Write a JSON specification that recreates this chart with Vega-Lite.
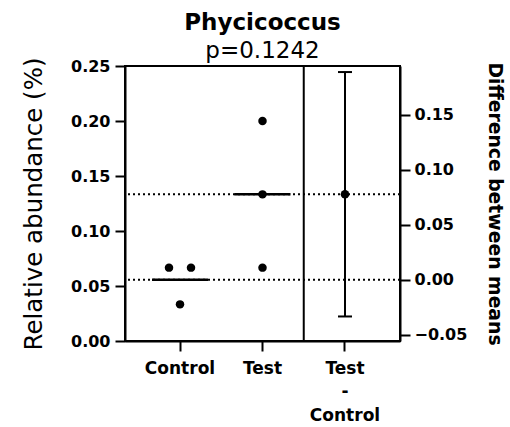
{
  "$schema": "https://vega.github.io/schema/vega-lite/v6.json",
  "width": 275,
  "height": 275,
  "autosize": "none",
  "padding": {"left": 125, "top": 66, "right": 110, "bottom": 86},
  "background": "white",
  "title": {
    "text": "Phycicoccus",
    "subtitle": "p=0.1242",
    "anchor": "middle",
    "frame": "group",
    "font": "DejaVu Sans",
    "fontSize": 23,
    "fontWeight": "bold",
    "color": "black",
    "subtitleFont": "DejaVu Sans",
    "subtitleFontSize": 23,
    "subtitleFontWeight": "normal",
    "subtitleColor": "black",
    "subtitlePadding": 5,
    "offset": -6
  },
  "config": {
    "font": "DejaVu Sans",
    "view": {"stroke": "black", "strokeWidth": 2},
    "axis": {
      "grid": false,
      "domainColor": "black",
      "domainWidth": 2,
      "tickColor": "black",
      "tickWidth": 2,
      "tickSize": 10,
      "labelColor": "black",
      "labelFont": "DejaVu Sans",
      "labelFontWeight": "bold",
      "titleColor": "black",
      "titleFont": "DejaVu Sans"
    }
  },
  "datasets": {
    "obs": [
      {"group": "Control", "abundance": 0.0667, "tie": "left"},
      {"group": "Control", "abundance": 0.0667, "tie": "right"},
      {"group": "Control", "abundance": 0.0333, "tie": "mid"},
      {"group": "Test", "abundance": 0.2, "tie": "mid"},
      {"group": "Test", "abundance": 0.1333, "tie": "mid"},
      {"group": "Test", "abundance": 0.0667, "tie": "mid"}
    ],
    "means": [
      {"group": "Control", "mean": 0.0556},
      {"group": "Test", "mean": 0.1333}
    ],
    "diff": [
      {"group": "Test - Control", "diff": 0.0778, "lo": -0.0333, "hi": 0.1889}
    ]
  },
  "layer": [
    {
      "layer": [
        {
          "data": {"name": "means"},
          "mark": {"type": "rule", "strokeDash": [2, 3], "strokeWidth": 2, "color": "black"},
          "encoding": {
            "y": {
              "field": "mean", "type": "quantitative",
              "scale": {"domain": [0, 0.25], "nice": false, "zero": false},
              "axis": {
                "orient": "left",
                "values": [0, 0.05, 0.1, 0.15, 0.2, 0.25],
                "format": ".2f",
                "labelFontSize": 16,
                "labelPadding": 5,
                "title": "Relative abundance (%)",
                "titleFontSize": 24.5,
                "titleFontWeight": "normal",
                "titlePadding": 24
              }
            }
          }
        },
        {
          "data": {"name": "means"},
          "mark": {"type": "tick", "size": 56, "thickness": 2.5, "color": "black", "opacity": 1},
          "encoding": {
            "x": {"field": "group", "type": "nominal", "scale": {"type": "band", "domain": ["Control", "Test", "Test - Control"], "paddingInner": 0, "paddingOuter": 0.1667}},
            "y": {"field": "mean", "type": "quantitative"}
          }
        },
        {
          "data": {"name": "obs"},
          "mark": {"type": "point", "filled": true, "size": 72, "color": "black", "opacity": 1},
          "encoding": {
            "x": {
              "field": "group", "type": "nominal",
              "scale": {"type": "band", "domain": ["Control", "Test", "Test - Control"], "paddingInner": 0, "paddingOuter": 0.1667},
              "axis": {
                "orient": "bottom",
                "title": null,
                "labelAngle": 0,
                "labelAlign": "center",
                "labelBaseline": "top",
                "labelFontSize": 17,
                "labelPadding": 9,
                "labelLineHeight": 23.5,
                "labelExpr": "datum.value == 'Test - Control' ? ['Test', '-', 'Control'] : datum.value"
              }
            },
            "xOffset": {"field": "tie", "type": "nominal", "scale": {"type": "point", "domain": ["left", "mid", "right"], "padding": 0, "range": [30.25, 52.25]}},
            "y": {"field": "abundance", "type": "quantitative"}
          }
        },
        {
          "data": {"values": [{}]},
          "mark": {"type": "rule", "strokeWidth": 2, "color": "black"},
          "encoding": {
            "x": {"datum": "Test - Control", "type": "nominal", "bandPosition": 0}
          }
        }
      ]
    },
    {
      "data": {"name": "diff"},
      "layer": [
        {
          "mark": {"type": "rule", "strokeWidth": 2, "color": "black"},
          "encoding": {
            "x": {"field": "group", "type": "nominal"},
            "y": {
              "field": "lo", "type": "quantitative",
              "scale": {"domain": [-0.0556, 0.1944], "nice": false, "zero": false},
              "axis": {
                "orient": "right",
                "values": [-0.05, 0, 0.05, 0.1, 0.15],
                "format": ".2f",
                "labelFontSize": 16,
                "labelPadding": 4,
                "title": "Difference between means",
                "titleFontSize": 18.8,
                "titleFontWeight": "bold",
                "titleAngle": 90,
                "titlePadding": 18
              }
            },
            "y2": {"field": "hi"}
          }
        },
        {
          "mark": {"type": "tick", "size": 14, "thickness": 2, "color": "black", "opacity": 1},
          "encoding": {
            "x": {"field": "group", "type": "nominal"},
            "y": {"field": "lo", "type": "quantitative"}
          }
        },
        {
          "mark": {"type": "tick", "size": 14, "thickness": 2, "color": "black", "opacity": 1},
          "encoding": {
            "x": {"field": "group", "type": "nominal"},
            "y": {"field": "hi", "type": "quantitative"}
          }
        },
        {
          "mark": {"type": "point", "filled": true, "size": 75, "color": "black", "opacity": 1},
          "encoding": {
            "x": {"field": "group", "type": "nominal"},
            "y": {"field": "diff", "type": "quantitative"}
          }
        }
      ]
    }
  ],
  "resolve": {"scale": {"y": "independent"}}
}
